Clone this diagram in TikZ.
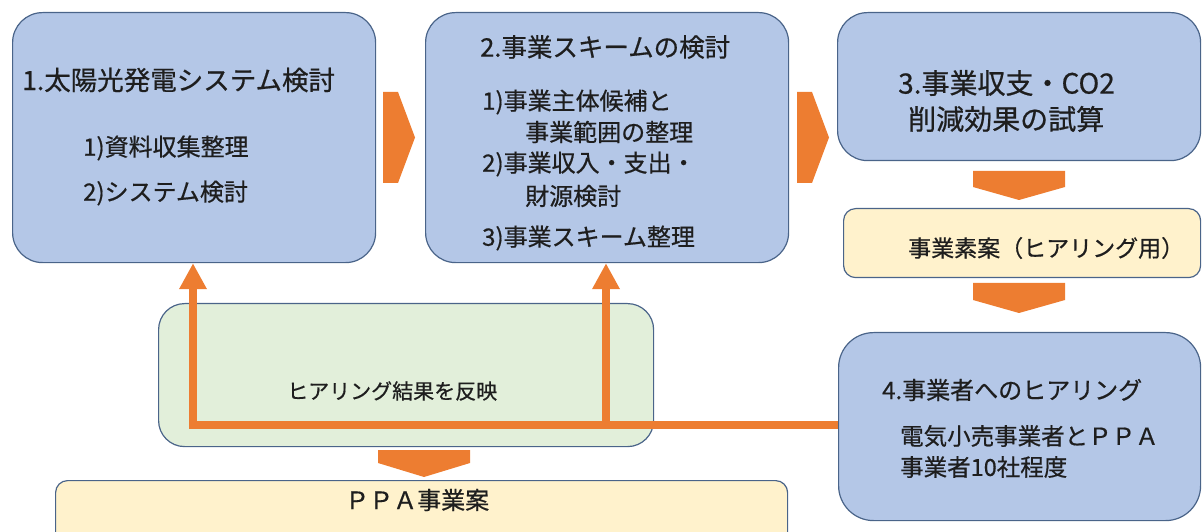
\documentclass[tikz,border=0pt]{standalone}
\usepackage{fontspec}
\setmainfont{Noto Sans CJK JP}[AutoFakeBold=0.6]
\usetikzlibrary{arrows.meta}
\definecolor{bluefill}{HTML}{B4C7E7}
\definecolor{boxedge}{HTML}{4A6489}
\definecolor{greenfill}{HTML}{E2EFDA}
\definecolor{creamfill}{HTML}{FFF2CC}
\definecolor{orng}{HTML}{ED7D31}
\definecolor{txt}{HTML}{1E1E1E}
\tikzset{
  boxbase/.style={draw=boxedge, line width=1.2bp, anchor=north west, inner sep=0pt},
  bluebox/.style={boxbase, fill=bluefill, rounded corners=30bp},
  greenbox/.style={boxbase, fill=greenfill, rounded corners=26bp},
  creambox/.style={boxbase, fill=creamfill, rounded corners=12bp},
  lbl/.style={anchor=west, inner sep=0pt, text=txt},
  fs/.style={font=\fontsize{#1bp}{#1bp}\selectfont\bfseries},
  conn/.style={draw=orng, line width=8bp, line join=miter, -{Triangle[width=26bp,length=26bp]}},
  blockarrow/.style={fill=orng, draw=none}
}
\begin{document}
\begin{tikzpicture}[x=1bp,y=-1bp]
\useasboundingbox (0,0) rectangle (1203,532);
% boxes
\node[greenbox, minimum width=495bp, minimum height=143bp] (g) at (158,303) {};
\node[creambox, minimum width=732bp, minimum height=75bp] (ppa) at (55,480) {};
\node[bluebox, minimum width=363bp, minimum height=250bp] (b1) at (12,12) {};
\node[bluebox, minimum width=363bp, minimum height=250bp] (b2) at (425,12) {};
\node[bluebox, minimum width=363bp, minimum height=148bp] (b3) at (837,12) {};
\node[creambox, minimum width=357bp, minimum height=69bp] (s) at (843,208) {};
\node[bluebox, minimum width=362bp, minimum height=188bp, rounded corners=35bp] (b4) at (838,332) {};
% texts box 1
\node[lbl, fs=26.5] (t1) at (22,80) {1.太陽光発電システム検討};
\node[lbl, fs=24] (t1a) at (83,148) {1)資料収集整理};
\node[lbl, fs=24] (t1b) at (83,193) {2)システム検討};
% texts box 2
\node[lbl, fs=25.5] (t2) at (480,47) {2.事業スキームの検討};
\node[lbl, fs=24] (t2a) at (482,102) {1)事業主体候補と};
\node[lbl, fs=24] (t2b) at (525,132) {事業範囲の整理};
\node[lbl, fs=24] (t2c) at (482,164) {2)事業収入・支出・};
\node[lbl, fs=24] (t2d) at (525,196) {財源検討};
\node[lbl, fs=24] (t2e) at (482,238) {3)事業スキーム整理};
% texts box 3
\node[lbl, fs=28] (t3a) at (898,83) {3.事業収支・CO2};
\node[lbl, fs=28] (t3b) at (908,119) {削減効果の試算};
% draft
\node[lbl, fs=23] (ts) at (908,248) {事業素案（ヒアリング用）};
% box 4
\node[lbl, fs=24] (t4) at (882,390) {4.事業者へのヒアリング};
\node[lbl, fs=23.5] (t4a) at (900,436) {電気小売事業者とＰＰＡ};
\node[lbl, fs=23.5] (t4b) at (900,467) {事業者10社程度};
% green and ppa texts
\node[lbl, fs=21] (tg) at (287,391) {ヒアリング結果を反映};
\node[lbl, fs=24] (tp) at (345,500) {ＰＰＡ事業案};
% chevrons and block arrows
\fill[blockarrow] (383,92) -- (398,92) -- (415,137.5) -- (398,183) -- (383,183) -- cycle;
\fill[blockarrow] (797,92) -- (812,92) -- (829,137.5) -- (812,183) -- (797,183) -- cycle;
\fill[blockarrow] (973,171) -- (1065,171) -- (1065,187) -- (1019,200) -- (973,187) -- cycle;
\fill[blockarrow] (973,283) -- (1065,283) -- (1065,300) -- (1019,313) -- (973,300) -- cycle;
\fill[blockarrow] (378,450) -- (470,450) -- (470,463) -- (424,477) -- (378,463) -- cycle;
% feedback connectors
\coordinate (j1) at (193,425);
\coordinate (j2) at (606,425);
\draw[conn] (b4.west |- j1) -- (j1) -- (j1 |- b1.south);
\draw[conn] (j2) -- (j2 |- b2.south);
\end{tikzpicture}
\end{document}
